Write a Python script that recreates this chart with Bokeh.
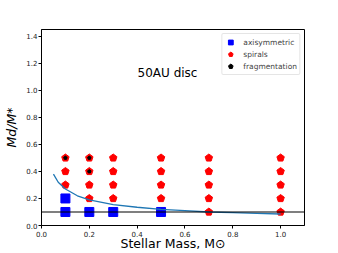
from bokeh.plotting import figure
from bokeh.models import Range1d, FixedTicker, Legend, LegendItem, Span, PrintfTickFormatter
from bokeh.core.properties import value
from bokeh.embed import file_html
from bokeh.resources import INLINE

# axisymmetric discs
axi_x = [0.1, 0.1, 0.2, 0.3, 0.5]
axi_y = [0.1, 0.2, 0.1, 0.1, 0.1]
# spirals
spi_x = [0.1, 0.1, 0.1,
         0.2, 0.2, 0.2, 0.2,
         0.3, 0.3, 0.3, 0.3,
         0.5, 0.5, 0.5, 0.5,
         0.7, 0.7, 0.7, 0.7, 0.7,
         1.0, 1.0, 1.0, 1.0, 1.0]
spi_y = [0.3, 0.4, 0.5,
         0.2, 0.3, 0.4, 0.5,
         0.2, 0.3, 0.4, 0.5,
         0.2, 0.3, 0.4, 0.5,
         0.1, 0.2, 0.3, 0.4, 0.5,
         0.1, 0.2, 0.3, 0.4, 0.5]
# fragmentation
frag_x = [0.1, 0.2, 0.2]
frag_y = [0.5, 0.5, 0.4]
# boundary curve
curve_x = [0.05, 0.07, 0.1, 0.15, 0.2, 0.3, 0.4, 0.5, 0.6, 0.7, 0.8, 0.9, 1.0]
curve_y = [0.38, 0.32, 0.27, 0.22, 0.19, 0.155, 0.135, 0.12, 0.11, 0.10, 0.095, 0.09, 0.085]
hline_y = 0.1

x_ticks = [0.0, 0.2, 0.4, 0.6, 0.8, 1.0]
y_ticks = [0.0, 0.2, 0.4, 0.6, 0.8, 1.0, 1.2, 1.4]

p = figure(width=338, height=253, output_backend="svg", toolbar_location=None,
           x_range=Range1d(0, 1.1), y_range=Range1d(0, 1.45),
           min_border_left=41, min_border_right=34, min_border_top=29, min_border_bottom=28)
p.grid.visible = False
p.outline_line_color = "black"
p.outline_line_width = 1

for ax in (p.xaxis[0], p.yaxis[0]):
    ax.major_label_text_font = "DejaVu Sans"
    ax.major_label_text_font_size = "7px"
    ax.major_label_text_color = "#222222"
    ax.major_tick_out = 3
    ax.major_tick_in = 0
    ax.minor_tick_out = 0
    ax.minor_tick_in = 0
    ax.axis_label_text_font = "DejaVu Sans"
    ax.axis_label_text_color = "black"
    ax.axis_line_color = "black"
    ax.formatter = PrintfTickFormatter(format="%.1f")

p.xaxis.major_label_standoff = 2
p.xaxis.axis_label_standoff = -4
p.yaxis.major_label_standoff = 1
p.yaxis.axis_label_standoff = 4

p.xaxis.ticker = FixedTicker(ticks=x_ticks)
p.yaxis.ticker = FixedTicker(ticks=y_ticks)
p.xaxis.axis_label = "Stellar Mass, M\u2299"
p.xaxis.axis_label_text_font_size = "12.5px"
p.xaxis.axis_label_text_font_style = "normal"
p.yaxis.axis_label = "Md/M*"
p.yaxis.axis_label_text_font_size = "12.5px"
p.yaxis.axis_label_text_font_style = "italic"

r_axi = p.scatter(axi_x, axi_y, marker="square", size=9, fill_color="#0000ff", line_color="#0000ff")
r_spi = p.ngon(x=spi_x, y=spi_y, radius=3.9, radius_units="screen", n=5,
               fill_color="#ff0000", line_color="#ff0000")
r_frag = p.ngon(x=frag_x, y=frag_y, radius=1.8, radius_units="screen", n=5,
                fill_color="black", line_color="black")

p.line(curve_x, curve_y, line_color="#1f77b4", line_width=1.3)
p.add_layout(Span(location=hline_y, dimension="width", line_color="black", line_width=1.2))

p.text(x=[0.527], y=[1.126], text=["50AU disc"], text_font=value("DejaVu Sans"),
       text_font_size="12px", text_align="center", text_baseline="middle", text_color="black")

legend = Legend(items=[LegendItem(label="axisymmetric", renderers=[r_axi]),
                       LegendItem(label="spirals", renderers=[r_spi]),
                       LegendItem(label="fragmentation", renderers=[r_frag])],
                location="top_right")
legend.label_text_font = "DejaVu Sans"
legend.label_text_font_size = "7.5px"
legend.label_height = 10
legend.glyph_height = 12
legend.glyph_width = 12
legend.spacing = -1
legend.padding = 2
legend.margin = 4
legend.label_standoff = 7
legend.border_line_color = "#cccccc"
legend.border_radius = 2
p.add_layout(legend)

open("out.html", "w").write(file_html(p, INLINE))
